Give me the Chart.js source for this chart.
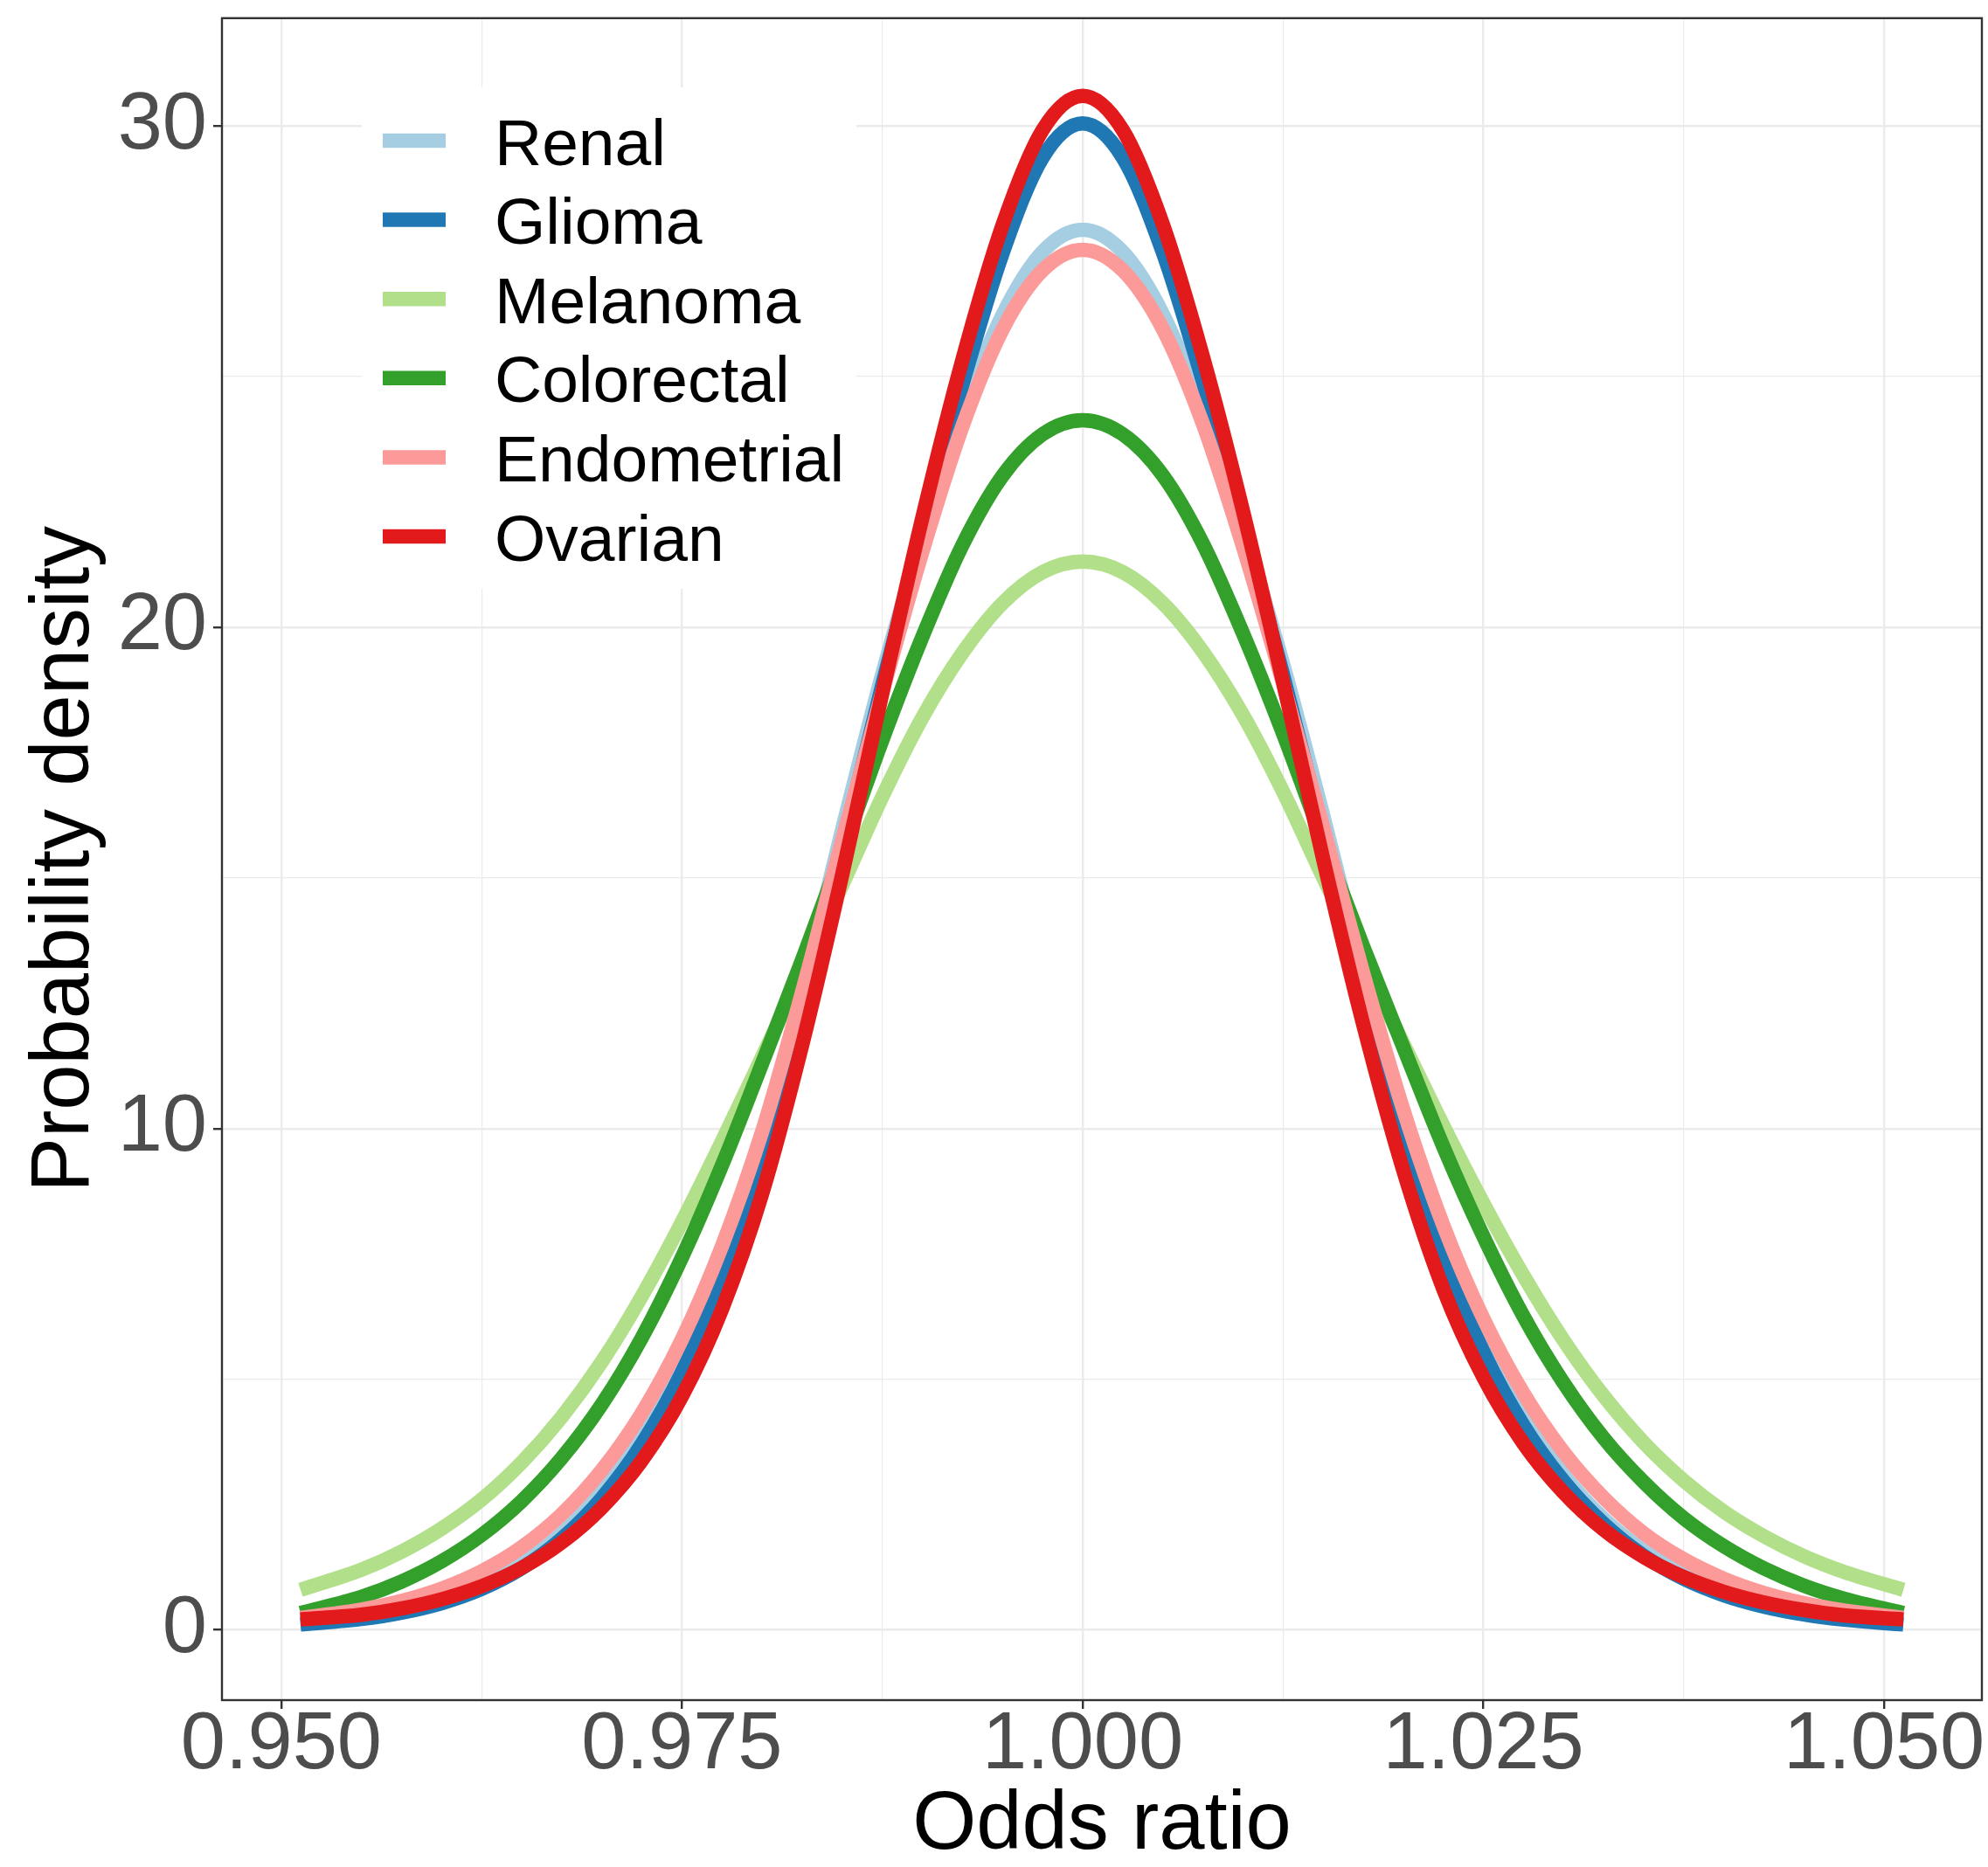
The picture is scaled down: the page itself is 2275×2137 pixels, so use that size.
<!DOCTYPE html>
<html>
<head>
<meta charset="utf-8">
<script src="https://cdn.jsdelivr.net/npm/chart.js@4.4.1/dist/chart.umd.min.js"></script>
<style>
  html, body { margin: 0; padding: 0; background: #ffffff; }
  #wrap { width: 2275px; height: 2137px; }
</style>
</head>
<body>
<div id="wrap"><canvas id="chart" width="2275" height="2137"></canvas></div>
<script>
const oddsRatio = [0.9512, 0.955, 0.9575, 0.96, 0.9625, 0.965, 0.9675, 0.97, 0.9725, 0.975, 0.9775, 0.98,
  0.9825, 0.985, 0.9875, 0.99, 0.9925, 0.995, 0.9975, 1.0, 1.0025, 1.005, 1.0075, 1.01, 1.0125, 1.015,
  1.0175, 1.02, 1.0225, 1.025, 1.0275, 1.03, 1.0325, 1.035, 1.0375, 1.04, 1.0425, 1.045, 1.0475, 1.0512];

// probability density for each cancer type
const renal = [0.157, 0.28, 0.412, 0.608, 0.898, 1.32, 1.92, 2.75, 3.86, 5.32, 7.22, 9.67, 12.72, 15.97,
  19.07, 21.82, 24.27, 26.23, 27.49, 27.93, 27.49, 26.25, 24.33, 21.93, 19.27, 16.25, 13.09, 10.06, 7.65,
  5.73, 4.24, 3.1, 2.22, 1.58, 1.107, 0.773, 0.54, 0.377, 0.265, 0.157];
const glioma = [0.11, 0.219, 0.344, 0.534, 0.817, 1.23, 1.82, 2.63, 3.71, 5.14, 7.01, 9.43, 12.38, 15.6,
  18.85, 21.95, 24.85, 27.46, 29.37, 30.05, 29.37, 27.48, 24.91, 22.07, 19.05, 15.88, 12.77, 9.89, 7.44,
  5.55, 4.08, 2.97, 2.12, 1.48, 1.02, 0.694, 0.467, 0.31, 0.205, 0.11];
const melanoma = [0.8, 1.2, 1.56, 2.02, 2.6, 3.34, 4.25, 5.35, 6.66, 8.14, 9.75, 11.43, 13.13, 14.86,
  16.62, 18.2, 19.49, 20.48, 21.1, 21.31, 21.1, 20.48, 19.51, 18.25, 16.72, 15.01, 13.34, 11.7, 10.06,
  8.51, 7.07, 5.78, 4.67, 3.74, 2.98, 2.36, 1.87, 1.47, 1.156, 0.8];
const colorectal = [0.337, 0.659, 0.964, 1.368, 1.894, 2.57, 3.43, 4.5, 5.83, 7.43, 9.27, 11.3, 13.37, 15.53,
  17.75, 19.81, 21.64, 23.02, 23.85, 24.13, 23.85, 23.03, 21.67, 19.88, 17.88, 15.72, 13.63, 11.63, 9.64,
  7.85, 6.26, 4.93, 3.83, 2.95, 2.23, 1.671, 1.229, 0.884, 0.624, 0.337];
const endometrial = [0.24, 0.406, 0.577, 0.823, 1.17, 1.65, 2.31, 3.19, 4.33, 5.8, 7.66, 9.94, 12.73, 15.76,
  18.7, 21.51, 24.01, 25.94, 27.12, 27.53, 27.12, 25.95, 24.06, 21.61, 18.88, 16.02, 13.1, 10.38, 8.07,
  6.21, 4.72, 3.55, 2.64, 1.93, 1.41, 1.022, 0.738, 0.533, 0.386, 0.24];
const ovarian = [0.21, 0.303, 0.428, 0.611, 0.872, 1.238, 1.745, 2.44, 3.38, 4.66, 6.4, 8.7, 11.67, 15.07,
  18.69, 22.19, 25.34, 28.02, 29.92, 30.6, 29.92, 28.04, 25.4, 22.32, 18.91, 15.38, 12.08, 9.17, 6.8,
  5.04, 3.72, 2.74, 2.0, 1.457, 1.054, 0.76, 0.547, 0.396, 0.29, 0.21];

const seriesNames = ["Renal", "Glioma", "Melanoma", "Colorectal", "Endometrial", "Ovarian"];
const seriesValues = [renal, glioma, melanoma, colorectal, endometrial, ovarian];
const seriesColors = ["#A6CEE3", "#1F78B4", "#B2DF8A", "#33A02C", "#FB9A99", "#E31A1C"];

// ticks (empty label = minor grid line only)
const xTicks = [0.95, 0.9625, 0.975, 0.9875, 1.0, 1.0125, 1.025, 1.0375, 1.05];
const xTickLabels = ["0.950", "", "0.975", "", "1.000", "", "1.025", "", "1.050"];
const yTicks = [0, 5, 10, 15, 20, 25, 30];
const yTickLabels = ["0", "", "10", "", "20", "", "30"];

const FONT = '"Liberation Sans", Arial, Helvetica, sans-serif';
Chart.defaults.font.family = FONT;

// ggplot style frame around the panel
const panelBorder = {
  id: "panelBorder",
  afterDatasetsDraw(chart) {
    const { ctx, chartArea: a } = chart;
    ctx.save();
    ctx.strokeStyle = "#333333";
    ctx.lineWidth = 2.4;
    ctx.strokeRect(a.left, a.top, a.right - a.left, a.bottom - a.top);
    ctx.restore();
  }
};

// legend sits inside the panel, top left
const panelLegend = {
  id: "panelLegend",
  afterDraw(chart) {
    const ctx = chart.ctx;
    ctx.save();
    ctx.fillStyle = "#ffffff";
    ctx.fillRect(414, 100, 566, 574);
    seriesNames.forEach(function (name, i) {
      const y = 161 + i * 90.6;
      ctx.strokeStyle = seriesColors[i];
      ctx.lineWidth = 16.5;
      ctx.lineCap = "butt";
      ctx.beginPath();
      ctx.moveTo(438, y);
      ctx.lineTo(510, y);
      ctx.stroke();
      ctx.fillStyle = "#000000";
      ctx.font = "75px " + FONT;
      ctx.textBaseline = "alphabetic";
      ctx.textAlign = "left";
      ctx.fillText(name, 566, y + 27.5);
    });
    ctx.restore();
  }
};

const datasets = seriesNames.map(function (name, i) {
  return {
    label: name,
    data: oddsRatio.map(function (x, j) { return { x: x, y: seriesValues[i][j] }; }),
    borderColor: seriesColors[i],
    backgroundColor: seriesColors[i],
    borderWidth: 16.5,
    borderCapStyle: "butt",
    borderJoinStyle: "round",
    cubicInterpolationMode: "monotone",
    pointRadius: 0,
    fill: false,
    order: seriesNames.length - i // later series are drawn on top
  };
});

new Chart(document.getElementById("chart"), {
  type: "line",
  data: { datasets: datasets },
  options: {
    responsive: false,
    animation: false,
    devicePixelRatio: 1,
    layout: { padding: { top: 14, right: 7, bottom: 0, left: 0 } },
    plugins: { legend: { display: false }, tooltip: { enabled: false } },
    scales: {
      x: {
        type: "linear",
        min: 0.9463,
        max: 1.0561,
        afterBuildTicks: function (scale) {
          scale.ticks = xTicks.map(function (v) { return { value: v }; });
        },
        afterFit: function (scale) { scale.height = 191; },
        grid: {
          color: "#EBEBEB",
          lineWidth: function (c) { return xTickLabels[c.index] ? 2.4 : 1.2; },
          drawTicks: true,
          tickLength: 10,
          tickWidth: 2.4,
          tickColor: function (c) { return xTickLabels[c.index] ? "#333333" : "rgba(0,0,0,0)"; }
        },
        border: { display: false },
        ticks: {
          autoSkip: false,
          maxRotation: 0,
          padding: -13,
          color: "#4D4D4D",
          font: { size: 92, lineHeight: 1.2 },
          callback: function (value, i) { return xTickLabels[i]; }
        },
        title: {
          display: true,
          text: "Odds ratio",
          color: "#000000",
          font: { size: 94, lineHeight: 1 },
          padding: { top: 0, bottom: 0 }
        }
      },
      y: {
        type: "linear",
        min: -1.4,
        max: 32.15,
        afterBuildTicks: function (scale) {
          scale.ticks = yTicks.map(function (v) { return { value: v }; });
        },
        afterFit: function (scale) { scale.width = 254; },
        grid: {
          color: "#EBEBEB",
          lineWidth: function (c) { return yTickLabels[c.index] ? 2.4 : 1.2; },
          drawTicks: true,
          tickLength: 10,
          tickWidth: 2.4,
          tickColor: function (c) { return yTickLabels[c.index] ? "#333333" : "rgba(0,0,0,0)"; }
        },
        border: { display: false },
        ticks: {
          autoSkip: false,
          padding: 7,
          color: "#4D4D4D",
          font: { size: 92, lineHeight: 0.3 },
          callback: function (value, i) { return yTickLabels[i]; }
        },
        title: {
          display: true,
          text: "Probability density",
          color: "#000000",
          font: { size: 94, lineHeight: 1 },
          padding: { top: 28, bottom: 0 }
        }
      }
    }
  },
  plugins: [panelBorder, panelLegend]
});
</script>
</body>
</html>
